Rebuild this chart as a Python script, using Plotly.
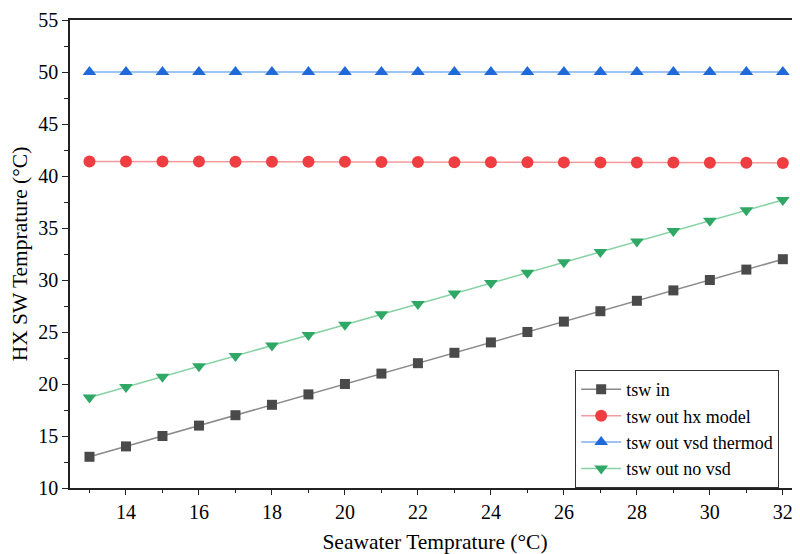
import plotly.graph_objects as go

sea_temp = [13, 14, 15, 16, 17, 18, 19, 20, 21, 22, 23, 24, 25, 26, 27, 28, 29, 30, 31, 32]
tsw_in = [13, 14, 15, 16, 17, 18, 19, 20, 21, 22, 23, 24, 25, 26, 27, 28, 29, 30, 31, 32]
tsw_out_hx = [41.40, 41.40, 41.39, 41.39, 41.38, 41.37, 41.36, 41.36, 41.35, 41.34,
              41.33, 41.33, 41.32, 41.31, 41.30, 41.30, 41.29, 41.28, 41.27, 41.26]
tsw_out_vsd = [50.0, 50.0, 50.0, 50.0, 50.0, 50.0, 50.0, 50.0, 50.0, 50.0,
               50.0, 50.0, 50.0, 50.0, 50.0, 50.0, 50.0, 50.0, 50.0, 50.0]
tsw_out_novsd = [18.7, 19.7, 20.7, 21.7, 22.7, 23.7, 24.7, 25.7, 26.7, 27.7,
                 28.7, 29.7, 30.7, 31.7, 32.7, 33.7, 34.7, 35.7, 36.7, 37.7]

series = [
    ("tsw in", tsw_in, "#4a4a4a", "#8a8a8a", "square", 10),
    ("tsw out hx model", tsw_out_hx, "#ef3e42", "#f59a9c", "circle", 12),
    ("tsw out vsd thermod", tsw_out_vsd, "#1f6ad8", "#7fb0ec", "triangle-up", 12),
    ("tsw out no vsd", tsw_out_novsd, "#2fa866", "#86d2a4", "triangle-down", 12),
]

fig = go.Figure()
for name, ys, mc, lc, sym, sz in series:
    fig.add_trace(go.Scatter(
        x=sea_temp, y=ys, name=name, mode="lines+markers",
        line=dict(color=lc, width=1.5),
        marker=dict(color=mc, symbol=sym, size=sz),
    ))

# the page body has an 8px margin, so the figure is sized to fit the window
font = "Liberation Serif, Times New Roman, serif"
fig.update_layout(
    width=792, height=546,
    paper_bgcolor="white", plot_bgcolor="white",
    margin=dict(l=62, r=0, t=12, b=66),
    font=dict(family=font, size=20, color="black"),
    legend=dict(
        x=0.692, y=0.252, xanchor="left", yanchor="top",
        bordercolor="#333333", borderwidth=1, bgcolor="white",
        font=dict(family=font, size=18), tracegroupgap=0, itemwidth=40,
    ),
    xaxis=dict(
        range=[12.466, 32.47], dtick=2, tick0=0, automargin=False,
        showline=True, linecolor="#222222", linewidth=1.5, mirror=True,
        ticks="outside", ticklen=5, tickcolor="#222222", tickwidth=1.2,
        minor=dict(dtick=1, ticks="outside", ticklen=3, tickcolor="#222222"),
        showgrid=False, zeroline=False,
        title=dict(text="Seawater Temprature (°C)", font=dict(size=21.5), standoff=14),
    ),
    yaxis=dict(
        range=[10, 55], dtick=5, automargin=False,
        showline=True, linecolor="#222222", linewidth=1.5,
        ticks="outside", ticklen=6, tickcolor="#222222", tickwidth=1.2,
        minor=dict(dtick=2.5, ticks="outside", ticklen=4, tickcolor="#222222"),
        showgrid=False, zeroline=False,
        title=dict(text="HX SW Temprature (°C)", font=dict(size=21.5), standoff=8),
    ),
)

fig.write_html("out.html")
